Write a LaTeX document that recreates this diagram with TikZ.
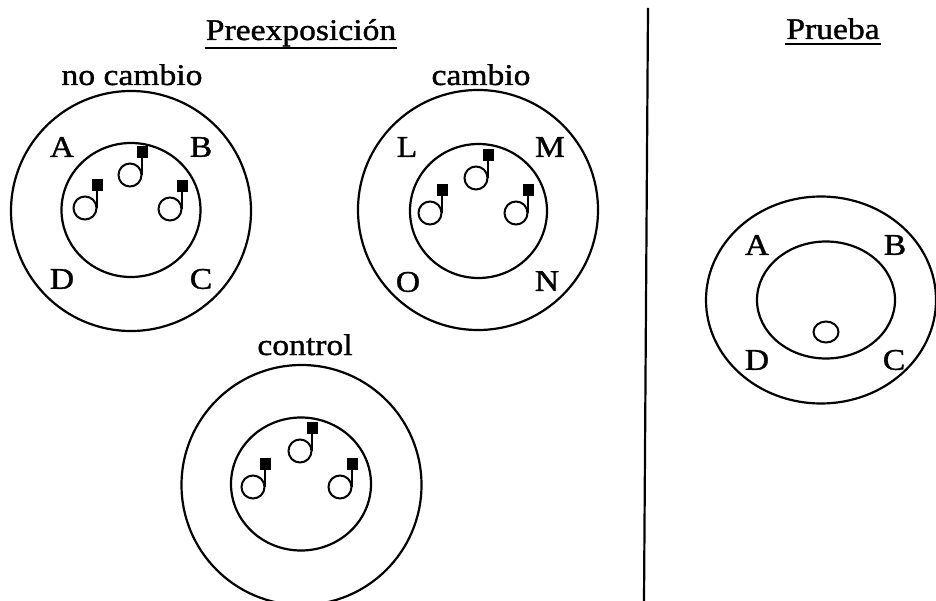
\documentclass[tikz,border=0pt]{standalone}
\usepackage{fontspec}
\setmainfont{Liberation Serif}[FakeStretch=1.12,FakeBold=1.2]
\begin{document}
\begin{tikzpicture}[x=1pt,y=-1pt,
  line width=2.2pt,
  lbl/.style={font=\fontsize{30}{35}\selectfont, inner sep=0pt},
  ttl/.style={lbl, anchor=base},
  noteobj/.pic={
    \draw[line width=2pt] (0,0) circle[radius=11.5];
    \draw[line width=2pt] (11.5,0) -- (11.5,-18);
    \fill (6.5,-29) rectangle (17.5,-17);
  }]
\useasboundingbox (0,0) rectangle (936,601);

% titles
\node[ttl] (pre) at (301,40) {Preexposición};
\draw[line width=1.8pt] ([yshift=-8pt]pre.base west) -- ([yshift=-8pt]pre.base east);
\node[ttl] (pru) at (833,39) {Prueba};
\draw[line width=1.8pt] ([yshift=-5pt]pru.base west) -- ([yshift=-5pt]pru.base east);

% divider
\coordinate (dtop) at (648,8);
\coordinate (dbot) at (644,601);
\draw (dtop) -- (dbot);

% no cambio
\node[ttl] (nc) at (132,85) {no cambio};
\draw (131,211) circle[radius=120];
\draw (131,210) circle[x radius=69.5, y radius=67];
\pic at (130,175) {noteobj};
\pic at (85,208) {noteobj};
\pic at (170,209) {noteobj};
\node[lbl] (ncA) at (62,147) {A};
\node[lbl] (ncB) at (201,147) {B};
\node[lbl] (ncD) at (62,279) {D};
\node[lbl] (ncC) at (201,279) {C};

% cambio
\node[ttl] (ca) at (481,85) {cambio};
\draw (478,210) circle[radius=120];
\draw (478.5,211) circle[x radius=68.5, y radius=67];
\pic at (476,178) {noteobj};
\pic at (430,213) {noteobj};
\pic at (516,213) {noteobj};
\node[lbl] (caL) at (407,147) {L};
\node[lbl] (caM) at (550,147) {M};
\node[lbl] (caO) at (408,282) {O};
\node[lbl] (caN) at (547,281) {N};

% control
\node[ttl] (co) at (305,355) {control};
\draw (301.5,485) circle[radius=120];
\draw (301,484) circle[x radius=70, y radius=66.5];
\pic at (300,451) {noteobj};
\pic at (253,487) {noteobj};
\pic at (340,487) {noteobj};

% prueba
\draw (821,300) circle[x radius=115, y radius=103.5];
\draw (826,300) circle[x radius=69, y radius=58.5];
\draw[line width=2pt] (826,332) circle[x radius=12.5, y radius=10.5];
\node[lbl] (prA) at (757,245) {A};
\node[lbl] (prB) at (895,245) {B};
\node[lbl] (prD) at (757,360) {D};
\node[lbl] (prC) at (894,360) {C};
\end{tikzpicture}
\end{document}
